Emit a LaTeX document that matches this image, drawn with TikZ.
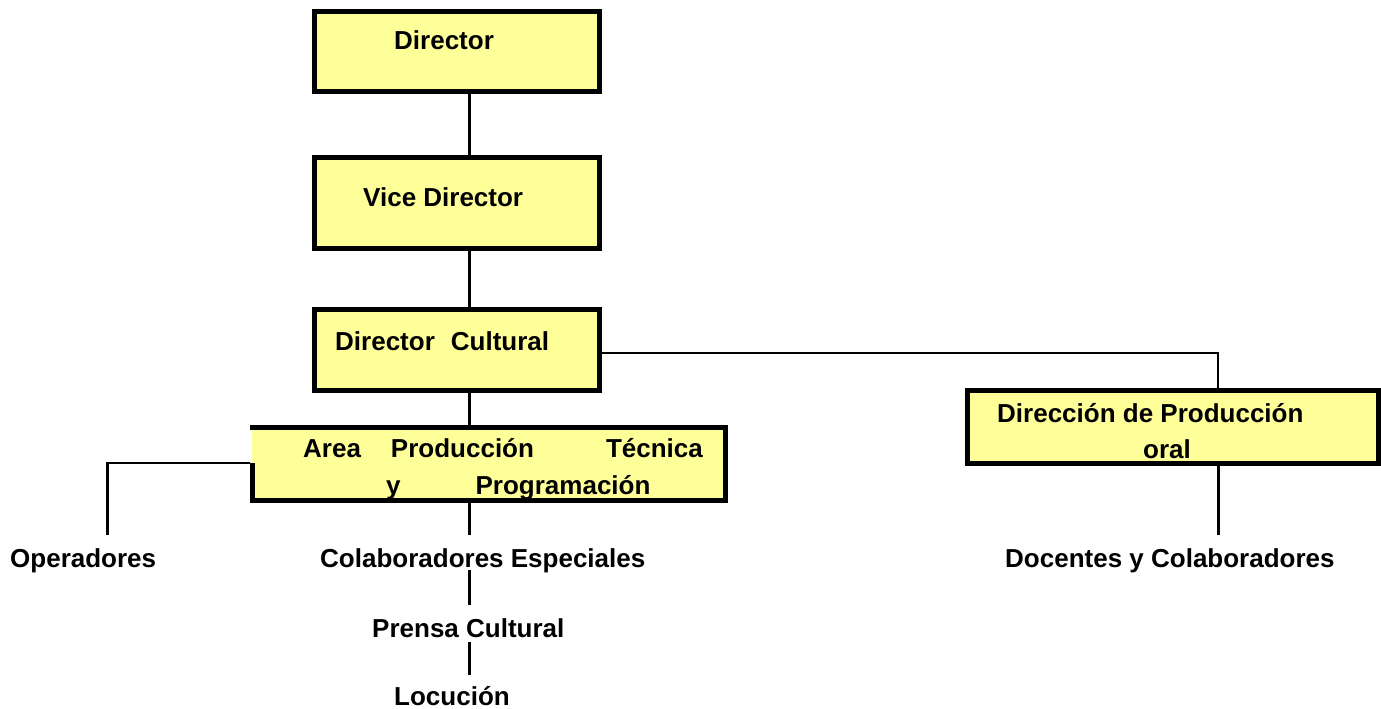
\documentclass[tikz,border=0pt]{standalone}
\usepackage{fontspec}
\setmainfont{Liberation Sans}
\definecolor{boxyellow}{HTML}{FFFF99}
\tikzset{
  box/.style={draw=black, fill=boxyellow, line width=5pt, rectangle, inner sep=0pt},
  boxfill/.style={fill=boxyellow, draw=none, rectangle, inner sep=0pt, outer sep=2.5pt},
  boxline/.style={draw=black, line width=5pt},
  lbl/.style={anchor=base west, inner sep=0pt, font=\fontsize{26pt}{30pt}\selectfont\bfseries},
  vconn/.style={draw=black, line width=3pt},
  hconn/.style={draw=black, line width=2.5pt},
}
\begin{document}
\begin{tikzpicture}[x=1pt,y=-1pt]
\useasboundingbox (0,0) rectangle (1381,709);
% boxes
\node[box, minimum width=285pt, minimum height=79pt] (dir) at (456.5,51.5) {};
\node[box, minimum width=285pt, minimum height=91pt] (vice) at (456.5,203) {};
\node[box, minimum width=285pt, minimum height=81pt] (cult) at (456.5,349.5) {};
\node[boxfill, minimum width=473.5pt, minimum height=73pt] (area) at (488.75,464) {};
\draw[boxline] (252,463) -- (252,500.5) -- (725.5,500.5) -- (725.5,427.5) -- (249.5,427.5);
\node[box, minimum width=411pt, minimum height=73pt] (prod) at (1173,427) {};
% texts
\node[lbl] (tdir) at (394,49) {Director};
\node[lbl] (tvice) at (363,206) {Vice Director};
\node[lbl] (tcult) at (335,350) {Director\hspace{16pt}Cultural};
\node[lbl] (tarea1) at (303,457) {Area\hspace{30pt}Producción\hspace{72pt}Técnica};
\node[lbl] (tarea2) at (386,494) {y\hspace{75pt}Programación};
\node[lbl] (tprod1) at (997,422) {Dirección de Producción};
\node[lbl] (tprod2) at (1143,458) {oral};
\node[lbl] (oper) at (10,567) {Operadores};
\node[lbl] (colab) at (320,567) {Colaboradores Especiales};
\node[lbl] (docen) at (1005,567) {Docentes y Colaboradores};
\node[lbl] (prensa) at (372,637) {Prensa Cultural};
\node[lbl] (locu) at (394,705) {Locución};
% connector coordinates
\coordinate (spine) at (469,0);
\coordinate (rt) at (1218,353);
\coordinate (opend) at (107,535);
\coordinate (colabtop) at (469,535);
\coordinate (colabbot) at (469,570);
\coordinate (prensatop) at (469,605);
\coordinate (prensabot) at (469,642);
\coordinate (locutop) at (469,675);
\coordinate (docentop) at (1218,535);
\coordinate (areaop) at (250,463);
% connectors
\draw[vconn] (dir.south -| spine) -- (vice.north -| spine);
\draw[vconn] (vice.south -| spine) -- (cult.north -| spine);
\draw[vconn] (cult.south -| spine) -- (area.north -| spine);
\draw[hconn] (cult.east |- rt) -- (rt) -- (prod.north -| rt);
\draw[hconn] (areaop) -| (opend);
\draw[vconn] (opend) -- +(0,-72);
\draw[vconn] (area.south -| spine) -- (colabtop);
\draw[vconn] (colabbot) -- (prensatop);
\draw[vconn] (prensabot) -- (locutop);
\draw[vconn] (prod.south -| rt) -- (docentop);
\end{tikzpicture}
\end{document}
